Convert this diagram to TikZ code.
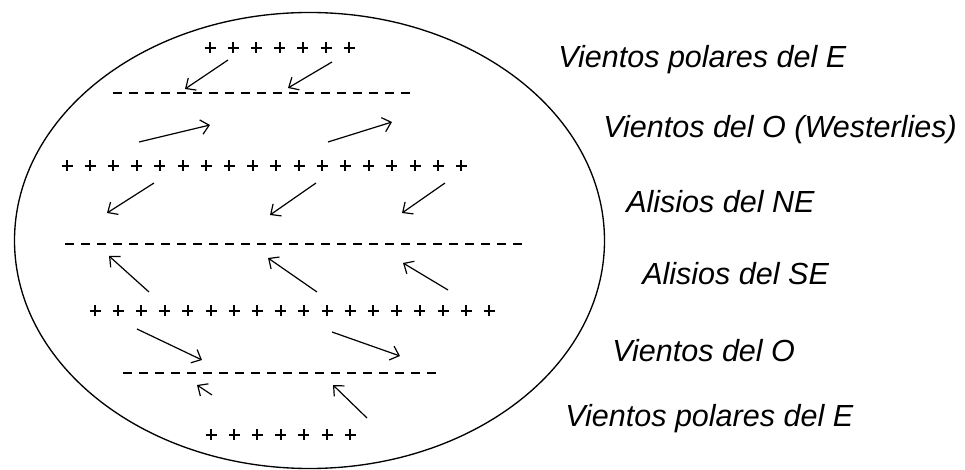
\documentclass[tikz,border=0pt]{standalone}
\usepackage{fontspec}
\setmainfont{Liberation Sans}
\usetikzlibrary{arrows.meta}
\tikzset{wind/.style={-{Straight Barb[length=6pt,width=11pt]},line width=0.9pt}}
\tikzset{front/.style={line width=1.5pt,dash pattern=on 6.75pt off 5.25pt}}
\tikzset{highp/.style={line width=1.4pt}}
\tikzset{zone/.style={anchor=base west,inner sep=0pt,font=\fontsize{22.9}{26}\selectfont\itshape}}

\begin{document}
\begin{tikzpicture}[x=0.75pt,y=-0.75pt]
    \useasboundingbox (0,0) rectangle (965,470);
    \draw [line width=1pt] (309.5,240.5) ellipse [x radius=295, y radius=228];
    % high pressure belts
    \foreach \x/\y/\n in {210/48/6, 67/166/17, 95/311/17, 211/435/6}
        \foreach \i in {0,...,\n}
            \draw [highp] (\x+\i*23.2,\y) ++(-5.5,0) -- ++(11,0) ++(-5.5,-5.5) -- ++(0,11);
    % low pressure fronts
    \draw [front] (113,93) -- (413,93);
    \draw [front] (65,244) -- (527,244);
    \draw [front] (123,373) -- (438,373);
    % winds
    \draw [wind] (228,60) -- (185,89);
    \draw [wind] (332,62) -- (288,88);
    \draw [wind] (139,142) -- (210,125);
    \draw [wind] (328,142) -- (392,122);
    \draw [wind] (154,183) -- (107,213);
    \draw [wind] (316,183) -- (270,215);
    \draw [wind] (445,183) -- (402,213);
    \draw [wind] (149,292) -- (109,256);
    \draw [wind] (317,292) -- (268,258);
    \draw [wind] (448,290) -- (403,263);
    \draw [wind] (137,329) -- (202,360);
    \draw [wind] (332,332) -- (400,356);
    \draw [wind] (212,395) -- (197,385);
    \draw [wind] (367,418) -- (333,385);
    % names of the belts
    \node [zone] (polarN) at (558,68) {Vientos polares del E};
    \node [zone] (westN) at (603,138) {Vientos del O (Westerlies)};
    \node [zone] (tradeN) at (626,213) {Alisios del NE};
    \node [zone] (tradeS) at (642,285) {Alisios del SE};
    \node [zone] (westS) at (612,362) {Vientos del O};
    \node [zone] (polarS) at (565,427) {Vientos polares del E};
\end{tikzpicture}
\end{document}
